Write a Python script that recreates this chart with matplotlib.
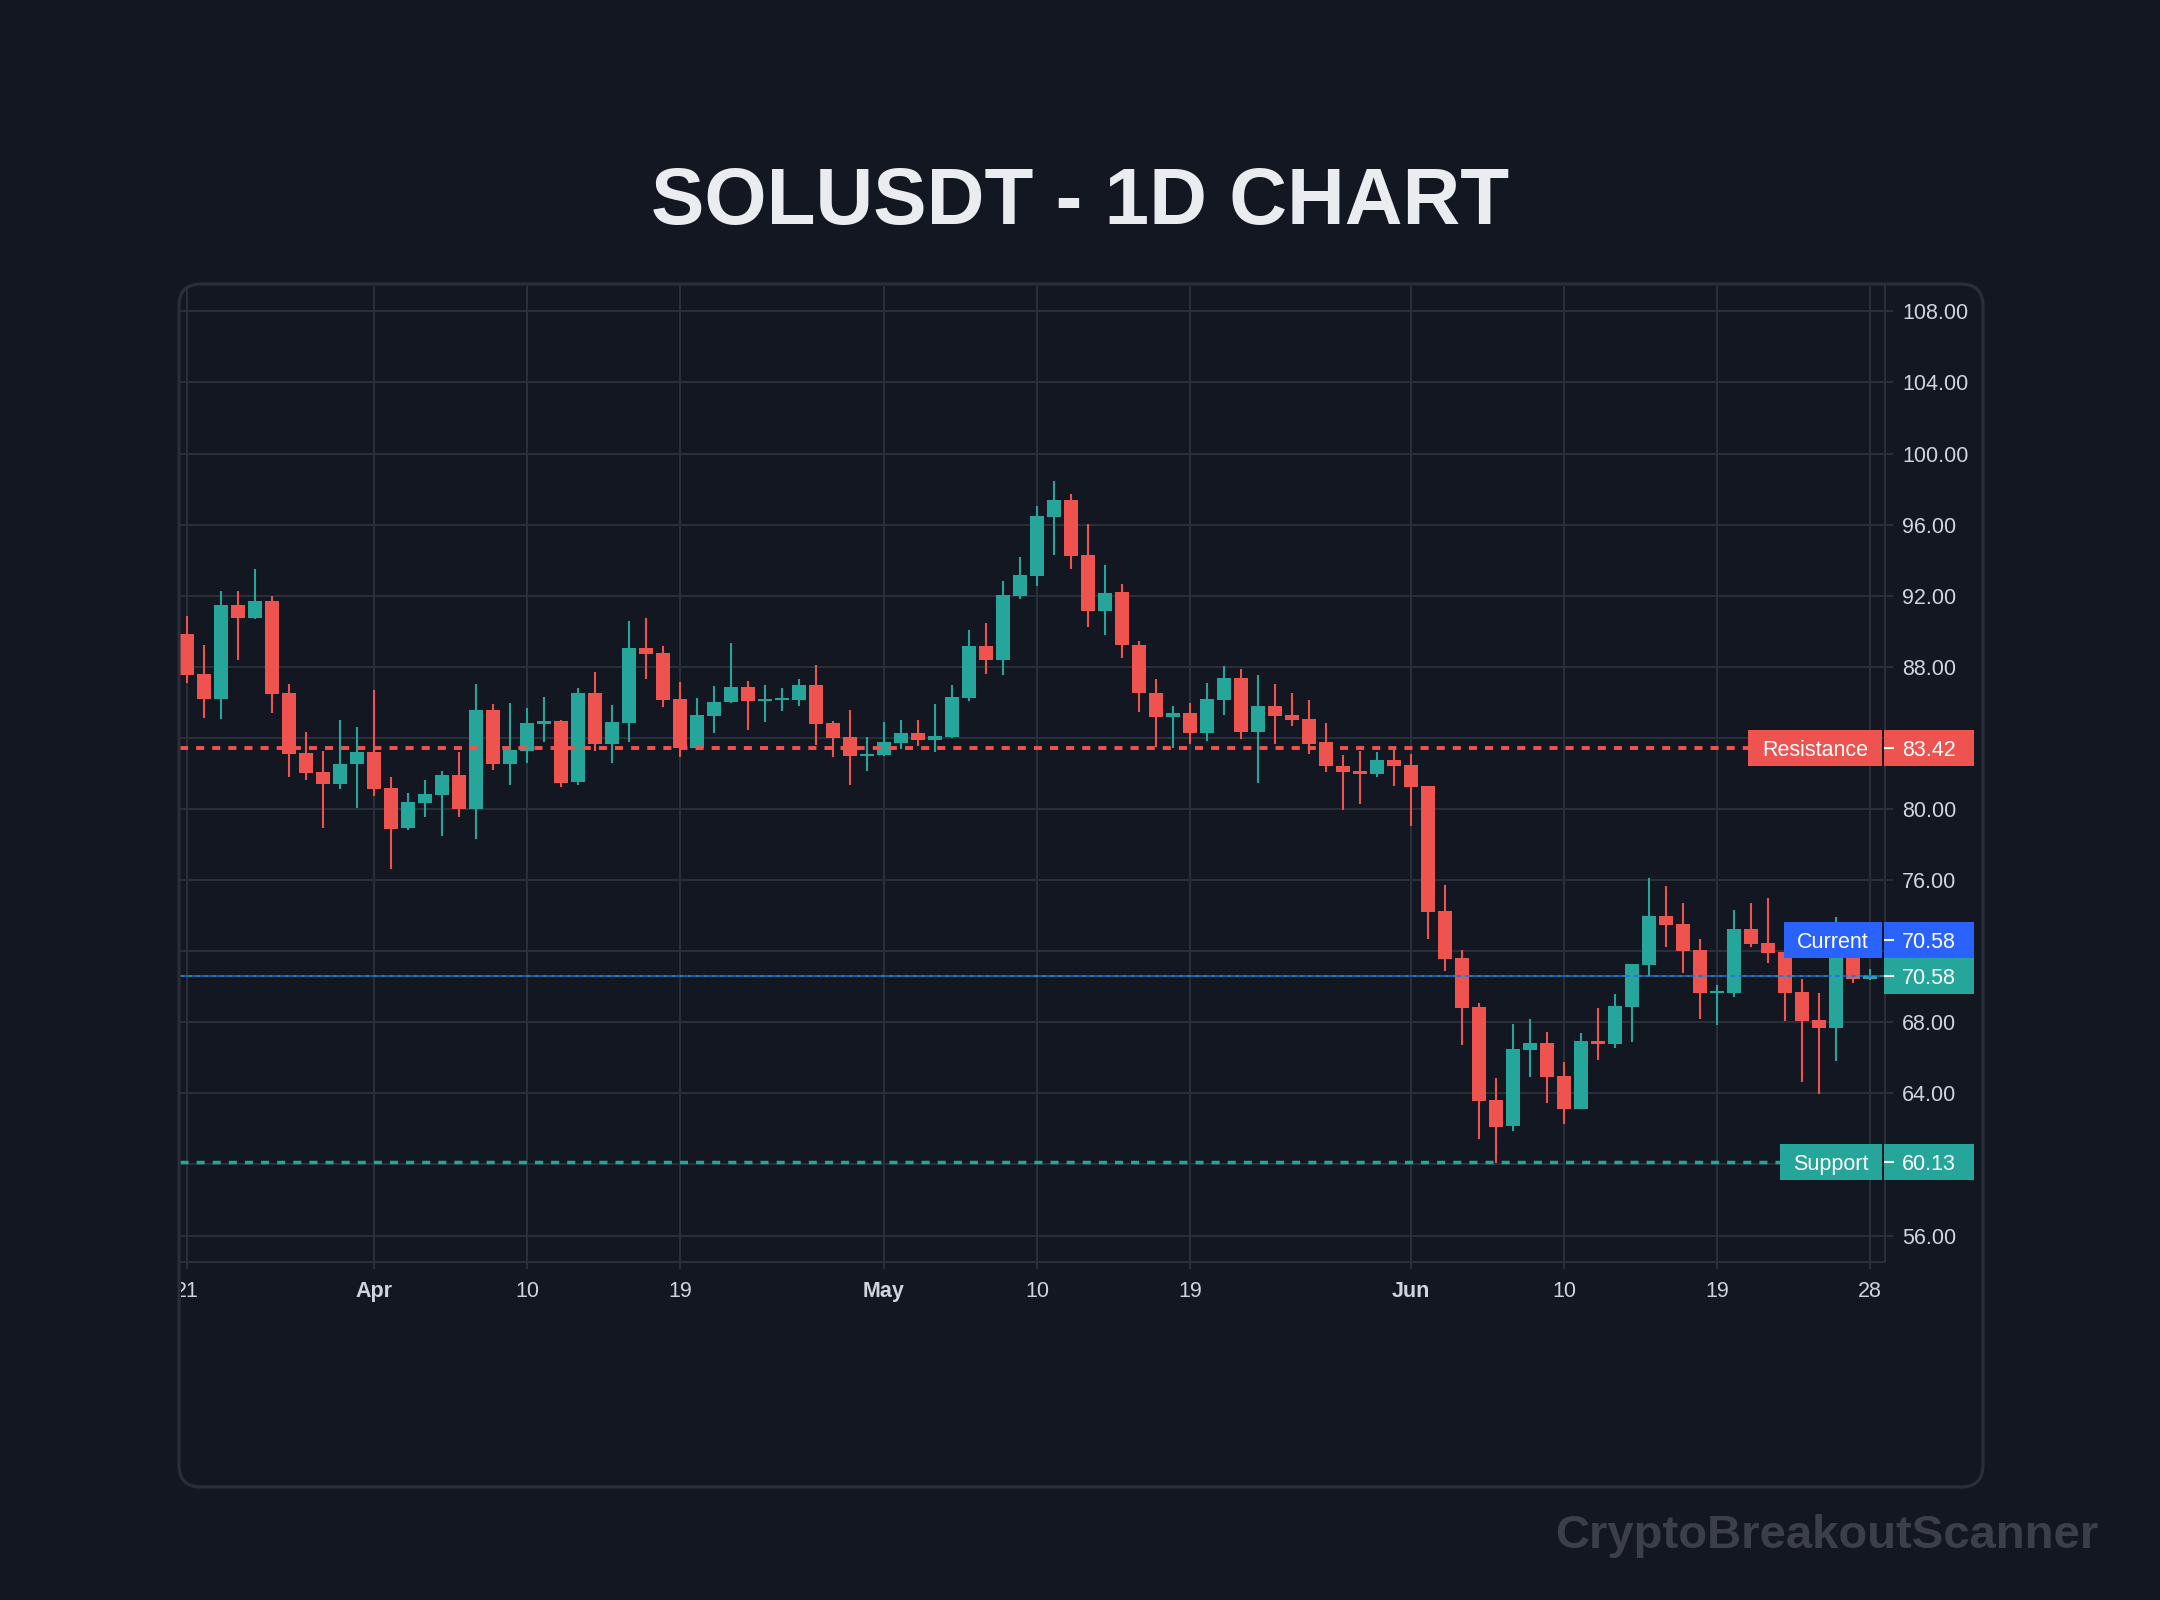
import numpy as np
import pandas as pd
import matplotlib
matplotlib.use('Agg')
from matplotlib import pyplot as plt, patches
from matplotlib.transforms import Bbox, IdentityTransform, blended_transform_factory

BG = '#131722'
GRID = '#2a2e39'
UP = '#26a69a'
DOWN = '#ef5350'
BLUE = '#2962ff'
TEXT = '#d1d4dc'

# daily candles, 21 Mar -> 28 Jun
dates = pd.date_range('2025-03-21', '2025-06-28', freq='D')

opens = [89.85, 87.60, 86.19, 91.48, 90.75, 91.71, 86.53, 83.15, 82.08, 81.41,
         82.53, 83.21, 81.18, 78.93, 80.34, 80.79, 81.91, 80.00, 85.57, 82.53,
         83.26, 84.78, 84.95, 81.52, 86.53, 83.66, 84.84, 89.06, 88.78, 86.19,
         83.43, 85.23, 86.02, 86.87, 86.08, 86.12, 86.13, 86.98, 84.84, 84.05,
         82.98, 83.04, 83.71, 84.28, 83.88, 84.05, 86.25, 89.17, 88.38, 91.99,
         93.11, 96.43, 97.39, 94.29, 91.14, 92.21, 89.23, 86.53, 85.18, 85.40,
         84.28, 86.13, 87.37, 84.33, 85.80, 85.29, 85.06, 83.77, 82.42, 82.14,
         81.97, 82.76, 82.48, 81.29, 74.26, 71.62, 68.86, 63.62, 62.16, 66.44,
         66.83, 64.97, 63.12, 66.94, 66.78, 68.86, 71.22, 73.98, 73.53, 72.07,
         69.65, 69.65, 73.25, 72.46, 71.95, 69.70, 68.13, 67.68, 71.90, 70.45]
highs = [90.86, 89.23, 92.27, 92.27, 93.50, 91.99, 87.03, 84.33, 83.26, 85.01,
         84.61, 86.70, 81.80, 80.90, 81.63, 82.14, 83.21, 87.03, 85.91, 85.97,
         85.68, 86.30, 85.01, 86.81, 87.71, 85.85, 90.58, 90.75, 89.17, 87.15,
         86.25, 86.92, 89.34, 87.20, 86.98, 86.81, 87.32, 88.10, 84.95, 85.57,
         84.05, 84.90, 85.01, 85.01, 85.91, 86.98, 90.07, 90.47, 92.83, 94.18,
         97.05, 98.46, 97.73, 96.04, 93.73, 92.66, 89.45, 87.32, 85.80, 85.97,
         87.09, 88.05, 87.88, 87.54, 87.03, 86.53, 86.13, 84.84, 83.04, 83.26,
         83.21, 83.43, 83.10, 81.30, 75.72, 72.07, 69.08, 64.86, 67.90, 68.18,
         67.45, 65.76, 67.39, 68.80, 69.59, 71.28, 76.12, 75.67, 74.71, 72.68,
         70.10, 74.32, 74.71, 74.99, 72.07, 70.43, 69.65, 73.92, 73.19, 71.00]
lows = [87.11, 85.14, 85.06, 88.38, 90.69, 85.40, 81.80, 81.63, 78.93, 81.13,
        80.06, 80.73, 76.62, 78.82, 79.55, 78.48, 79.55, 78.31, 82.19, 81.35,
        82.59, 83.77, 81.24, 81.35, 83.26, 82.59, 83.77, 87.32, 85.74, 82.93,
        83.32, 84.28, 85.97, 84.45, 84.90, 85.51, 85.80, 83.60, 82.93, 81.35,
        82.14, 83.00, 83.38, 83.55, 83.21, 84.00, 86.08, 87.60, 87.54, 91.82,
        92.55, 94.29, 93.51, 90.24, 89.79, 88.50, 85.46, 83.49, 83.43, 83.66,
        83.83, 85.29, 83.94, 81.46, 83.66, 84.67, 83.10, 82.08, 79.94, 80.28,
        81.80, 81.29, 79.04, 72.68, 70.88, 66.72, 61.43, 60.08, 61.88, 64.92,
        63.46, 62.27, 63.12, 65.88, 66.55, 66.89, 70.60, 72.23, 70.77, 68.18,
        67.84, 69.42, 72.23, 71.33, 68.07, 64.64, 63.96, 65.82, 70.21, 70.38]
closes = [87.54, 86.19, 91.48, 90.75, 91.71, 86.47, 83.10, 82.03, 81.41, 82.53,
          83.21, 81.13, 78.87, 80.39, 80.84, 81.91, 80.00, 85.57, 82.53, 83.32,
          84.84, 84.95, 81.46, 86.53, 83.66, 84.90, 89.06, 88.72, 86.13, 83.43,
          85.29, 86.02, 86.87, 86.08, 86.16, 86.18, 86.98, 84.78, 84.00, 82.98,
          83.10, 83.77, 84.28, 83.88, 84.11, 86.30, 89.17, 88.38, 92.04, 93.17,
          96.49, 97.39, 94.24, 91.14, 92.16, 89.23, 86.53, 85.18, 85.40, 84.28,
          86.19, 87.37, 84.33, 85.80, 85.23, 85.01, 83.66, 82.42, 82.08, 81.97,
          82.76, 82.42, 81.24, 74.20, 71.56, 68.80, 63.57, 62.10, 66.49, 66.83,
          64.92, 63.12, 66.94, 66.78, 68.91, 71.28, 73.98, 73.47, 72.01, 69.65,
          69.76, 73.25, 72.40, 71.90, 69.65, 68.07, 67.68, 71.90, 70.43, 70.58]

tick_dates = ['2025-03-21', '2025-04-01', '2025-04-10', '2025-04-19', '2025-05-01',
              '2025-05-10', '2025-05-19', '2025-06-01', '2025-06-10', '2025-06-19',
              '2025-06-28']
tick_labels = ['21', 'Apr', '10', '19', 'May', '10', '19', 'Jun', '10', '19', '28']
price_ticks = [56, 60, 64, 68, 72, 76, 80, 84, 88, 92, 96, 100, 104, 108]
# these scale labels sit under the level tags
hidden_ticks = [60, 72, 84]

resistance = 83.42
support = 60.13
current = 70.58

plt.rcParams['font.family'] = ['Liberation Sans', 'DejaVu Sans']
plt.rcParams['lines.scale_dashes'] = False

fig = plt.figure(figsize=(21.6, 16), dpi=100, facecolor=BG)

# rounded panel behind the chart, border drawn on top
fig.add_artist(patches.FancyBboxPatch((179, 113), 1804, 1203,
                                      boxstyle='round,pad=0,rounding_size=22',
                                      facecolor=BG, edgecolor='none',
                                      transform=IdentityTransform(), zorder=-5))
fig.add_artist(patches.FancyBboxPatch((179, 113), 1804, 1203,
                                      boxstyle='round,pad=0,rounding_size=22',
                                      facecolor='none', edgecolor=GRID, linewidth=2.3,
                                      transform=IdentityTransform(), zorder=5))

ax = fig.add_axes([180 / 2160, 338 / 1600, 1705 / 2160, 976 / 1600])
ax.set_facecolor('none')

x = np.arange(len(dates))
o = np.array(opens)
h = np.array(highs)
l = np.array(lows)
c = np.array(closes)
colors = np.where(c >= o, UP, DOWN)
body_lo = np.minimum(o, c)
body_h = np.maximum(np.abs(c - o), 0.12)

ax.vlines(x, l, h, colors=colors, linewidth=1.5, zorder=2)
ax.bar(x, body_h, bottom=body_lo, width=0.82, color=colors, linewidth=0, zorder=2)

ax.set_xlim(-0.41, 99.88)
ax.set_ylim(54.51, 109.43)

tick_pos = [dates.get_loc(pd.Timestamp(d)) for d in tick_dates]
ax.set_xticks(tick_pos, tick_labels)
ax.set_yticks(price_ticks, ['' if v in hidden_ticks else f'{v:.2f}' for v in price_ticks])
ax.yaxis.tick_right()
ax.set_axisbelow(True)
ax.grid(True, color=GRID, linewidth=1.5)

ax.tick_params(axis='x', length=5, width=1.5, color=GRID, labelcolor=TEXT,
               labelsize=15.5, pad=9)
ax.tick_params(axis='y', length=5.8, width=1.5, color=GRID, labelcolor=TEXT,
               labelsize=15.5, pad=6.5)
for lbl in ax.get_xticklabels():
    if lbl.get_text() in ('Apr', 'May', 'Jun'):
        lbl.set_fontweight('bold')
    lbl.set_clip_box(Bbox.from_extents(181, 0, 2160, 1600))
    lbl.set_clip_on(True)

for side in ('left', 'top'):
    ax.spines[side].set_visible(False)
for side in ('right', 'bottom'):
    ax.spines[side].set_color(GRID)
    ax.spines[side].set_linewidth(1.5)

# level lines
ax.axhline(resistance, color=DOWN, linewidth=2.8, linestyle=(0, (5.8, 5.8)), zorder=3)
ax.axhline(support, color=UP, linewidth=2.5, linestyle=(0, (5.8, 5.8)), zorder=3)
ax.axhline(current, color=UP, linewidth=1.1, linestyle=(0, (2.9, 2.9)), zorder=3)
ax.axhline(current, color=BLUE, linewidth=1.1, linestyle=(2.9, (2.9, 2.9)), zorder=3)

# price tags on the right
blend = blended_transform_factory(ax.transAxes, ax.transData)
box_h = 36 / 17.77


def fr(px):
    return (px - 180) / 1705


def tag(y, text, color, x0, x1, centered=True):
    ax.add_patch(patches.Rectangle((fr(x0), y - box_h / 2), fr(x1) - fr(x0), box_h,
                                   transform=blend, facecolor=color, edgecolor='none',
                                   clip_on=False, zorder=10))
    tx = fr((x0 + x1) / 2) if centered else fr(1902)
    ax.text(tx, y - 0.43, text, transform=blend, ha='center' if centered else 'left',
            va='baseline', color='white', fontsize=15.5, zorder=11, clip_on=False)
    if not centered:
        ax.plot([fr(1885), fr(1893)], [y, y], transform=blend, color='white',
                linewidth=1.5, clip_on=False, zorder=11)


tag(resistance, 'Resistance', DOWN, 1748, 1882)
tag(resistance, f'{resistance:.2f}', DOWN, 1884, 1974, centered=False)
tag(current + box_h, 'Current', BLUE, 1784, 1882)
tag(current + box_h, f'{current:.2f}', BLUE, 1884, 1974, centered=False)
tag(current, f'{closes[-1]:.2f}', UP, 1884, 1974, centered=False)
tag(support, 'Support', UP, 1780, 1882)
tag(support, f'{support:.2f}', UP, 1884, 1974, centered=False)

fig.text(0.5, 1 - 224 / 1600, 'SOLUSDT - 1D CHART', ha='center', va='baseline',
         fontsize=57.6, fontweight='bold', color='#eaecef')
fig.text(2098 / 2160, 1 - 1548 / 1600, 'CryptoBreakoutScanner', ha='right',
         va='baseline', fontsize=34, fontweight='bold', color='#3c3f49')

fig.savefig('out.png', dpi=100, facecolor=BG)
